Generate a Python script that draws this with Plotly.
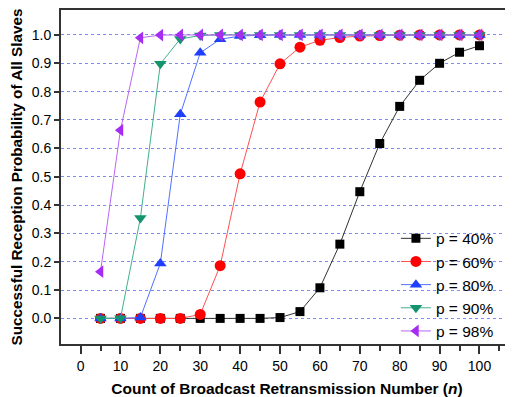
import plotly.graph_objects as go

n = [5, 10, 15, 20, 25, 30, 35, 40, 45, 50, 55, 60, 65, 70, 75, 80, 85, 90, 95, 100]
p40 = [0, 0, 0, 0, 0, 0, 0, 0, 0, 0.003, 0.024, 0.108, 0.262, 0.447, 0.617, 0.748, 0.840, 0.900, 0.939, 0.962]
p60 = [0, 0, 0, 0, 0, 0.014, 0.186, 0.510, 0.763, 0.898, 0.957, 0.981, 0.991, 0.996, 0.998, 0.999, 1, 1, 1, 1]
p80 = [0, 0, 0.003, 0.194, 0.720, 0.937, 0.985, 0.996, 0.999, 1, 1, 1, 1, 1, 1, 1, 1, 1, 1, 1]
p90 = [0, 0.0003, 0.354, 0.898, 0.986, 0.998, 1, 1, 1, 1, 1, 1, 1, 1, 1, 1, 1, 1, 1, 1]
p98 = [0.165, 0.664, 0.990, 0.9995, 1, 1, 1, 1, 1, 1, 1, 1, 1, 1, 1, 1, 1, 1, 1, 1]

series_names = ["p = 40%", "p = 60%", "p = 80%", "p = 90%", "p = 98%"]
series_vals = [p40, p60, p80, p90, p98]
marker_colors = ["#000000", "#FF0000", "#1F3FFF", "#13946C", "#A62CF2"]
line_colors = ["#333333", "#FF5050", "#5070FF", "#40B08E", "#BB66F5"]
symbols = ["square", "circle", "triangle-up", "triangle-down", "triangle-left"]
sizes = [9, 11, 11, 11, 11]

fig = go.Figure()
for name, vals, mc, lc, sym, sz in zip(series_names, series_vals, marker_colors, line_colors, symbols, sizes):
    fig.add_trace(go.Scatter(
        x=n, y=vals, name=name, mode="lines+markers",
        line=dict(color=lc, width=1),
        marker=dict(symbol=sym, size=sz, color=mc, line=dict(width=0)),
    ))

axis_font = dict(family="Liberation Sans, Arial, sans-serif", size=14, color="#000000")
fig.update_layout(
    width=505, height=389,
    margin=dict(l=53, r=0, t=2, b=53, autoexpand=False),
    paper_bgcolor="white", plot_bgcolor="white",
    font=axis_font,
    showlegend=True,
    legend=dict(
        x=0.741, xanchor="left", y=0.366, yanchor="top",
        bgcolor="rgba(0,0,0,0)", borderwidth=0,
        font=dict(family="Liberation Sans, Arial, sans-serif", size=15.5, color="#000000"),
        tracegroupgap=0, itemwidth=30,
    ),
    xaxis=dict(
        range=[-4.9, 108.4], dtick=10, tick0=0, automargin=False,
        ticks="outside", ticklen=8, tickwidth=1.5, tickcolor="#333333",
        minor=dict(dtick=5, tick0=0, ticks="outside", ticklen=5, tickwidth=1.5, tickcolor="#333333", showgrid=False),
        showline=True, linewidth=2, linecolor="#333333", mirror=True,
        showgrid=False, zeroline=False,
        tickfont=axis_font,
        title=dict(text="<b>Count of Broadcast Retransmission Number (<i>n</i>)</b>",
                   font=dict(family="Liberation Sans, Arial, sans-serif", size=15.5, color="#000000"),
                   standoff=14),
    ),
    yaxis=dict(
        range=[-0.0903, 1.088], dtick=0.1, tick0=0, tickformat=".1f", automargin=False,
        ticks="outside", ticklen=5, tickwidth=1.5, tickcolor="#333333",
        showline=True, linewidth=2, linecolor="#333333", mirror=False,
        showgrid=True, gridcolor="#7D8CF0", gridwidth=1, griddash="dot",
        zeroline=False,
        tickfont=axis_font,
        title=dict(text="<b>Successful Reception Probability of All Slaves</b>",
                   font=dict(family="Liberation Sans, Arial, sans-serif", size=15.3, color="#000000"),
                   standoff=6),
    ),
)

fig.write_html("out.html")
